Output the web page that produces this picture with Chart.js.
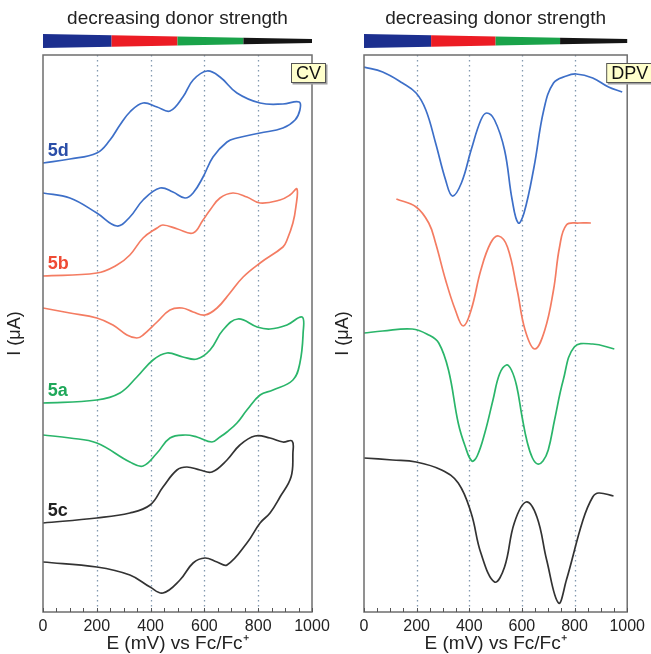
<!DOCTYPE html>
<html>
<head>
<meta charset="utf-8">
<script src="https://cdn.jsdelivr.net/npm/chart.js@4.4.1/dist/chart.umd.min.js"></script>
<style>
  body { margin: 0; background: #fff; }
  #wrap { position: relative; width: 651px; height: 654px; }
  canvas { position: absolute; top: 0; }
</style>
</head>
<body>
<div id="wrap">
  <canvas id="cvChart" width="340" height="654" style="left:0"></canvas>
  <canvas id="dpvChart" width="321" height="654" style="left:330px"></canvas>
</div>
<script>
// potenciales (mV) y corriente (unidades arbitrarias, curvas desplazadas)
const xTicks = [0, 200, 400, 600, 800, 1000];
const refLines = [200, 400, 600, 800];
const barStops = [0, 255, 500, 745, 1000];
const barColors = ['#1c2f8f', '#ec1c24', '#1aa34a', '#151515'];

// CV - ida y vuelta
const cv5dE = [0, 100, 200, 249, 286, 323, 372, 424, 472, 520, 558, 610, 658, 721, 807, 892, 952, 955, 937, 892, 807, 721, 684, 632, 595, 558, 528, 483, 435, 372, 323, 275, 200, 100, 0];
const cv5dI = [449, 453, 459, 472, 487, 500, 509, 505, 501, 515, 532, 541, 535, 519, 509, 508, 510, 502, 492, 484, 479, 474, 470, 455, 435, 419, 414, 420, 424, 412, 395, 386, 399, 414, 419];

const cv5bE = [0, 200, 275, 323, 372, 424, 446, 500, 558, 595, 621, 658, 706, 758, 807, 881, 918, 944, 940, 929, 907, 892, 807, 744, 695, 647, 602, 558, 517, 472, 424, 372, 349, 312, 260, 200, 100, 0];
const cv5bI = [336, 339, 347, 357, 374, 384, 387, 383, 379, 392, 402, 414, 419, 415, 409, 412, 417, 423, 405, 389, 372, 365, 349, 335, 319, 304, 297, 300, 304, 302, 290, 277, 274, 277, 287, 294, 299, 304];

const cv5aE = [0, 200, 286, 349, 409, 461, 520, 572, 621, 669, 725, 796, 844, 907, 963, 967, 955, 929, 855, 807, 758, 721, 684, 658, 628, 572, 528, 472, 424, 372, 323, 200, 100, 0];
const cv5aI = [209, 212, 219, 235, 252, 259, 255, 253, 262, 282, 293, 285, 283, 287, 295, 279, 249, 232, 222, 217, 202, 189, 180, 175, 170, 175, 177, 174, 159, 146, 150, 169, 174, 177];

const cv5cE = [0, 200, 323, 398, 446, 498, 535, 584, 628, 684, 732, 788, 844, 892, 926, 929, 922, 881, 844, 807, 758, 684, 647, 602, 558, 509, 446, 398, 323, 200, 0];
const cv5cI = [89, 94, 99, 107, 125, 142, 145, 142, 140, 152, 167, 176, 174, 170, 171, 159, 135, 115, 99, 89, 69, 47, 50, 54, 49, 32, 19, 25, 37, 45, 50];

// DPV
const dpv5dE = [0, 71, 146, 198, 235, 272, 310, 336, 370, 407, 444, 466, 496, 534, 563, 586, 608, 646, 683, 720, 769, 806, 869, 929, 981];
const dpv5dI = [545, 540, 529, 519, 502, 469, 432, 416, 429, 462, 492, 499, 492, 462, 412, 389, 399, 445, 502, 529, 536, 538, 534, 525, 520];

const dpv5bE = [123, 198, 246, 272, 310, 347, 377, 407, 444, 481, 511, 545, 582, 612, 649, 687, 720, 743, 769, 817, 862];
const dpv5bI = [413, 405, 389, 369, 332, 302, 286, 302, 342, 369, 376, 365, 322, 282, 263, 282, 322, 365, 387, 389, 389];

const dpv5aE = [0, 71, 183, 246, 284, 321, 358, 384, 410, 430, 460, 490, 515, 541, 560, 580, 600, 620, 640, 660, 680, 700, 724, 757, 799, 869, 951];
const dpv5aI = [279, 281, 283, 277, 269, 242, 189, 166, 151, 156, 180, 212, 238, 247, 242, 226, 196, 170, 154, 148, 151, 162, 192, 232, 265, 268, 263];

const dpv5cE = [0, 108, 198, 295, 358, 407, 444, 496, 534, 571, 616, 657, 694, 739, 769, 832, 869, 892, 948];
const dpv5cI = [154, 152, 150, 142, 129, 99, 59, 30, 45, 89, 110, 95, 52, 9, 32, 92, 115, 119, 116];

const seriesNames = ['5d', '5b', '5a', '5c'];
const lineColors = ['#3d6fc8', '#f47c62', '#2ab56a', '#333333'];
const labelColors = ['#2b4ea8', '#ef4b35', '#1fa85a', '#222222'];

Chart.defaults.font.family = '"Liberation Sans", Arial, sans-serif';
Chart.defaults.color = '#222';

const toPts = (xs, ys) => xs.map((v, i) => ({ x: v, y: ys[i] }));

// plugin para el marco, lineas punteadas, barra de colores y etiquetas
const frame = {
    id: 'frame',
    beforeDatasetsDraw(chart, args, opts) {
        const { ctx, chartArea: a, scales: { x } } = chart;
        ctx.save();
        ctx.strokeStyle = '#8299b0';
        ctx.lineWidth = 1.3;
        ctx.setLineDash([1.5, 3.5]);
        refLines.forEach(v => {
            const px = Math.round(x.getPixelForValue(v)) + 0.5;
            ctx.beginPath();
            ctx.moveTo(px, a.top);
            ctx.lineTo(px, a.bottom);
            ctx.stroke();
        });
        ctx.restore();
    },
    afterDraw(chart, args, opts) {
        const { ctx, chartArea: a, scales: { x, y } } = chart;
        ctx.save();
        // marco
        ctx.strokeStyle = '#6e6e6e';
        ctx.lineWidth = 1.5;
        ctx.strokeRect(a.left, a.top, a.width, a.height);
        // ticks menores hacia dentro
        ctx.strokeStyle = '#555';
        ctx.lineWidth = 1;
        for (let v = 0; v <= 1000; v += 50) {
            const px = Math.round(x.getPixelForValue(v)) + 0.5;
            ctx.beginPath();
            ctx.moveTo(px, a.bottom);
            ctx.lineTo(px, a.bottom - 4);
            ctx.stroke();
        }
        // barra en cuña
        const yc = a.top - 14;
        const half = px => 7 - 5 * (px - a.left) / a.width;
        for (let i = 0; i < barColors.length; i++) {
            const xs = x.getPixelForValue(barStops[i]);
            const xe = x.getPixelForValue(barStops[i + 1]);
            ctx.fillStyle = barColors[i];
            ctx.beginPath();
            ctx.moveTo(xs, yc - half(xs));
            ctx.lineTo(xe, yc - half(xe));
            ctx.lineTo(xe, yc + half(xe));
            ctx.lineTo(xs, yc + half(xs));
            ctx.closePath();
            ctx.fill();
        }
        // cajita CV / DPV
        ctx.font = '18px "Liberation Sans", Arial, sans-serif';
        const w = ctx.measureText(opts.tag).width + 10;
        const bx = a.right - 21, by = a.top + 8;
        ctx.fillStyle = '#a0a0a0';
        ctx.fillRect(bx + 1.5, by + 1.5, w, 20);
        ctx.fillStyle = '#ffffcc';
        ctx.fillRect(bx, by, w, 20);
        ctx.strokeStyle = '#555';
        ctx.lineWidth = 1;
        ctx.strokeRect(bx + 0.5, by + 0.5, w - 1, 19);
        ctx.fillStyle = '#111';
        ctx.textBaseline = 'middle';
        ctx.textAlign = 'left';
        ctx.fillText(opts.tag, bx + 5, by + 11);
        // nombres de las curvas
        if (opts.showNames) {
            ctx.font = 'bold 18px "Liberation Sans", Arial, sans-serif';
            chart.data.datasets.forEach((ds, i) => {
                ctx.fillStyle = labelColors[i];
                ctx.fillText(ds.label, x.getPixelForValue(18), y.getPixelForValue(ds.data[0].y + 12));
            });
        }
        ctx.restore();
    }
};

function makePanel(canvasId, sets, tag, showNames, pad) {
    const ctx = document.getElementById(canvasId).getContext('2d');
    return new Chart(ctx, {
        type: 'line',
        data: {
            datasets: sets.map((s, i) => ({
                label: seriesNames[i],
                data: toPts(s[0], s[1]),
                borderColor: lineColors[i],
                borderWidth: 1.7,
                pointRadius: 0,
                tension: 0.4,
                fill: false
            }))
        },
        options: {
            responsive: false,
            devicePixelRatio: 1,
            animation: false,
            layout: { padding: { left: pad.left, right: pad.right, top: 0, bottom: 0 } },
            plugins: {
                legend: { display: false },
                tooltip: { enabled: false },
                title: {
                    display: true,
                    text: 'decreasing donor strength',
                    fullSize: false,
                    color: '#222',
                    font: { size: 19, weight: 'normal', lineHeight: 1.2 },
                    padding: { top: 7, bottom: 25.2 }
                },
                frame: { tag: tag, showNames: showNames }
            },
            scales: {
                x: {
                    type: 'linear',
                    min: 0,
                    max: 1000,
                    afterBuildTicks: sc => { sc.ticks = xTicks.map(v => ({ value: v })); },
                    afterFit: sc => { sc.height = 42; },
                    grid: { display: false, drawTicks: false },
                    border: { display: false },
                    ticks: {
                        color: '#222',
                        padding: 6,
                        font: { size: 16, lineHeight: 1.1 },
                        callback: v => String(v)
                    },
                    title: {
                        display: true,
                        text: 'E (mV) vs Fc/Fc⁺',
                        color: '#222',
                        font: { size: 19, lineHeight: 1.1 },
                        padding: { top: 0, bottom: 0 }
                    }
                },
                y: {
                    type: 'linear',
                    min: 0,
                    max: 557,
                    afterFit: sc => { sc.width = pad.axisW; },
                    grid: { display: false, drawTicks: false },
                    border: { display: false },
                    ticks: { display: false },
                    title: {
                        display: true,
                        text: 'I (μA)',
                        color: '#222',
                        font: { size: 18, lineHeight: 1.1 },
                        padding: { top: 0, bottom: 0 }
                    }
                }
            }
        },
        plugins: [frame]
    });
}

makePanel('cvChart',
    [[cv5dE, cv5dI], [cv5bE, cv5bI], [cv5aE, cv5aI], [cv5cE, cv5cI]],
    'CV', true, { left: 5, right: 28, axisW: 38 });

makePanel('dpvChart',
    [[dpv5dE, dpv5dI], [dpv5bE, dpv5bI], [dpv5aE, dpv5aI], [dpv5cE, dpv5cI]],
    'DPV', false, { left: 3, right: 19, axisW: 31 });
</script>
</body>
</html>
